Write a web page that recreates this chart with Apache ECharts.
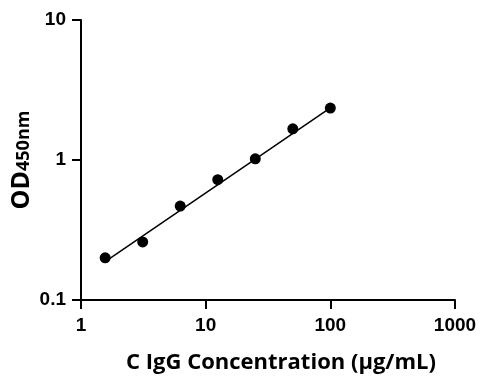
<!DOCTYPE html>
<html><head><meta charset="utf-8">
<script src="https://cdn.jsdelivr.net/npm/echarts@6/dist/echarts.min.js"></script>
<style>html,body{margin:0;padding:0;background:#fff}#c{width:489px;height:391px}</style>
</head><body><div id="c"></div>
<script>
const concentrations = [1.5625, 3.125, 6.25, 12.5, 25, 50, 100];
const odValues = [0.200, 0.260, 0.469, 0.723, 1.02, 1.67, 2.35];
const fitLineX = [1.5625, 100];
const fitLineY = [0.188, 2.36];
const xTicks = [1, 10, 100, 1000];
const yTicks = [0.1, 1, 10];

const chart = echarts.init(document.getElementById('c'), null, {renderer: 'canvas'});
const axisLine = {show: true, lineStyle: {color: '#000', width: 2}};
const tickFont = {color: '#000', fontFamily: 'Liberation Sans', fontWeight: 'bold', fontSize: 19};
chart.setOption({
  animation: false,
  grid: {left: 81, right: 34, top: 20, bottom: 91, containLabel: false, outerBoundsMode: 'none'},
  xAxis: {
    type: 'log', logBase: 10, min: 1, max: 1000,
    axisLine: Object.assign({onZero: false}, axisLine),
    axisTick: {show: true, inside: false, length: 9, lineStyle: {color: '#000', width: 2}},
    minorTick: {show: false},
    splitLine: {show: false},
    axisLabel: Object.assign({margin: 16, formatter: v => String(Math.round(v))}, tickFont),
    name: 'C IgG Concentration (µg/mL)',
    nameLocation: 'middle', nameGap: 52, nameMoveOverlap: false,
    nameTextStyle: {color: '#000', fontFamily: 'Open Sans', fontWeight: 'bold', fontSize: 22, padding: [0, 0, 0, 26]}
  },
  yAxis: {
    type: 'log', logBase: 10, min: 0.1, max: 10,
    axisLine: Object.assign({onZero: false}, axisLine),
    axisTick: {show: true, inside: false, length: 9, lineStyle: {color: '#000', width: 2}},
    minorTick: {show: false},
    splitLine: {show: false},
    axisLabel: Object.assign({margin: 15, formatter: v => (v < 1 ? v.toFixed(1) : String(Math.round(v)))}, tickFont),
    name: '{a|OD}{b|450nm}',
    nameLocation: 'middle', nameGap: 47, nameRotate: 90, nameMoveOverlap: false,
    nameTextStyle: {
      rich: {
        a: {color: '#000', fontFamily: 'Open Sans', fontWeight: 'bold', fontSize: 25},
        b: {color: '#000', fontFamily: 'Open Sans', fontWeight: 'bold', fontSize: 18, padding: [4, 0, 0, 0]}
      }
    }
  },
  series: [
    {
      type: 'line',
      data: fitLineX.map((x, i) => [x, fitLineY[i]]),
      symbol: 'none',
      lineStyle: {color: '#000', width: 1.5},
      z: 2
    },
    {
      type: 'scatter',
      data: concentrations.map((x, i) => [x, odValues[i]]),
      symbol: 'circle', symbolSize: 11,
      itemStyle: {color: '#000', opacity: 1},
      z: 3
    }
  ]
});
</script></body></html>
